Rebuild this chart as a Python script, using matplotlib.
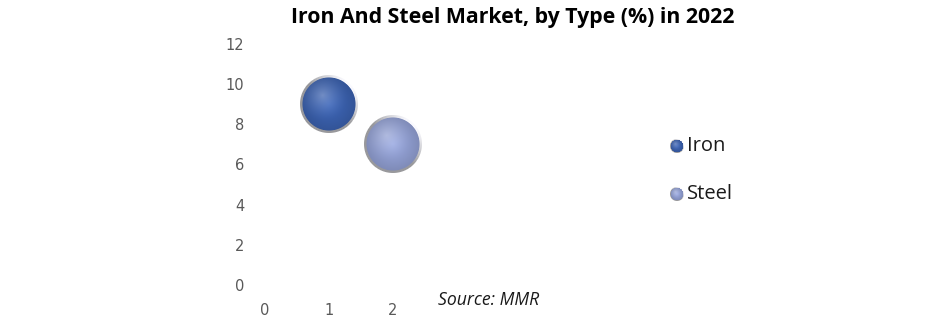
import numpy as np
import matplotlib.pyplot as plt
from matplotlib.offsetbox import OffsetImage, AnnotationBbox
from matplotlib.colors import to_rgb

# bubble data
types = ["Iron", "Steel"]
x_vals = [1, 2]
y_vals = [9, 7]
bubble_size = [1, 1]
colors = ["#3a60ad", "#919fd2"]

yticks = [0, 2, 4, 6, 8, 10, 12]
xticks = [0, 1, 2]


def sphere_image(color, diam):
    # shaded ball with a silver rim, rendered as an rgba array
    n = diam
    yy, xx = np.mgrid[0:n, 0:n] + 0.5
    c = n / 2.0
    r = np.hypot(xx - c, yy - c) / c
    base = np.array(to_rgb(color))
    img = np.zeros((n, n, 4))
    inner = 0.9
    # body shading: highlight upper-left, darker towards edge
    hx, hy = c - 0.22 * c, c - 0.3 * c
    d = np.hypot(xx - hx, yy - hy) / (c * inner)
    light = np.clip(1 - d, 0, 1) ** 1.6
    body = base[None, None, :] * (0.88 + 0.2 * (1 - r[..., None] / inner))
    body = body + (1 - body) * (0.28 * light[..., None])
    body = np.clip(body, 0, 1)
    # rim: gray ring, lighter at top-right
    ang = np.arctan2(-(yy - c), xx - c)
    rim_l = 0.6 + 0.38 * np.clip(np.cos(ang - np.pi / 4), 0, 1)
    rim = np.stack([rim_l, rim_l, rim_l * 1.02], axis=-1)
    rim = np.clip(rim, 0, 1)
    t = np.clip((r - inner) / 0.03, 0, 1)[..., None]
    img[..., :3] = body * (1 - t) + rim * t
    edge = np.clip((1 - r) * c + 0.5, 0, 1)
    img[..., 3] = edge
    return img


fig = plt.figure(figsize=(9.41, 3.24), dpi=100)
ax = fig.add_axes([265 / 941, 39 / 324, 192 / 941, 241 / 324])
ax.set_xlim(0, 3)
ax.set_ylim(0, 12)
ax.set_yticks(yticks)
ax.set_xticks(xticks)
for s in ax.spines.values():
    s.set_visible(False)
ax.tick_params(length=0, colors="#595959", labelsize=10.5)
ax.tick_params(axis="y", pad=15)
ax.tick_params(axis="x", pad=13)

for i in range(len(types)):
    img = sphere_image(colors[i], int(58 * bubble_size[i]))
    ab = AnnotationBbox(OffsetImage(img, zoom=1, dpi_cor=False),
                        (x_vals[i], y_vals[i]), frameon=False, pad=0)
    ax.add_artist(ab)

fig.text(513 / 941, 1 - 18 / 324, "Iron And Steel Market, by Type (%) in 2022",
         fontsize=15.3, fontweight="bold", family="Open Sans",
         ha="center", va="center")

# legend entries
leg_y = [146, 194]
for i in range(len(types)):
    img = sphere_image(colors[i], 14)
    ab = AnnotationBbox(OffsetImage(img, zoom=1, dpi_cor=False),
                        (677 / 941, 1 - leg_y[i] / 324), xycoords="figure fraction",
                        frameon=False, pad=0)
    fig.add_artist(ab)
    fig.text(687 / 941, 1 - leg_y[i] / 324, types[i], fontsize=14.5,
             va="center", ha="left", color="#1a1a1a", family="Open Sans")

fig.text(438 / 941, 1 - 300 / 324, "Source: MMR", fontsize=12.7, style="italic",
         va="center", ha="left", color="#1a1a1a", family="Open Sans")

fig.savefig("out.png", dpi=100)
